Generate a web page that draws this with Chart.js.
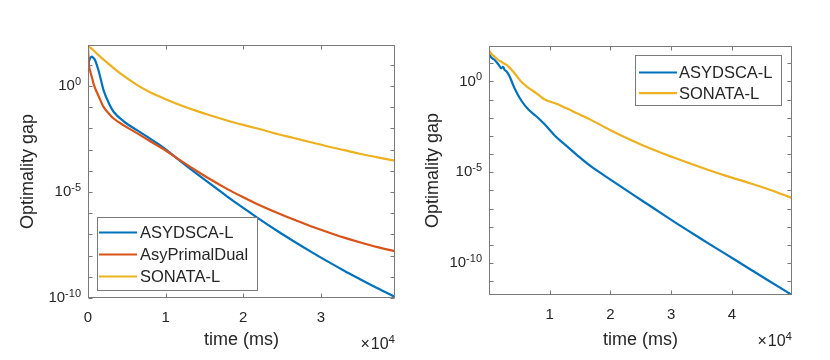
<!DOCTYPE html>
<html>
<head>
<meta charset="utf-8">
<script src="https://cdn.jsdelivr.net/npm/chart.js@4.4.1/dist/chart.umd.min.js"></script>
<style>
  body { margin: 0; background: #fff; }
  .panel { position: absolute; top: 0; width: 415px; height: 360px; }
</style>
</head>
<body>
<div class="panel" style="left:0"><canvas id="left" width="415" height="360"></canvas></div>
<div class="panel" style="left:415px"><canvas id="right" width="415" height="360"></canvas></div>
<script>
// time in ms, series are log10 of the optimality gap
var leftTime = [0, 100, 300, 500, 700, 900, 1400, 2000, 2700, 3300, 4600, 6300, 8000, 9700, 11500, 13600, 15800, 17900, 20000, 21700, 24500, 26500, 28700, 30800, 33000, 35000, 37300, 39550];
var leftAsydsca = [1.0, 1.15, 1.33, 1.39, 1.33, 1.23, 0.68, -0.19, -0.82, -1.21, -1.66, -2.08, -2.48, -2.9, -3.42, -4.02, -4.63, -5.2, -5.75, -6.18, -6.86, -7.32, -7.81, -8.26, -8.71, -9.1, -9.54, -9.95];
var leftPrimalDual = [1.86, 1.07, 0.68, 0.42, 0.13, -0.08, -0.5, -0.98, -1.3, -1.53, -1.85, -2.22, -2.6, -2.97, -3.41, -3.91, -4.41, -4.85, -5.25, -5.55, -6.0, -6.3, -6.61, -6.88, -7.15, -7.37, -7.6, -7.79];
var leftSonata = [1.89, 1.86, 1.82, 1.76, 1.69, 1.62, 1.45, 1.25, 1.04, 0.85, 0.48, 0.06, -0.29, -0.57, -0.84, -1.12, -1.39, -1.62, -1.83, -1.99, -2.27, -2.45, -2.65, -2.84, -3.02, -3.19, -3.36, -3.52];

var rightTime = [0, 300, 900, 1400, 1800, 2000, 2300, 2600, 2900, 3400, 4200, 5400, 6500, 8100, 9200, 10900, 12600, 14500, 16700, 20000, 23900, 27000, 30200, 34500, 38800, 43000, 46000, 49900];
var rightAsydsca = [1.55, 1.35, 1.19, 1.0, 0.82, 0.72, 0.8, 0.62, 0.55, 0.27, -0.37, -1.09, -1.55, -2.01, -2.37, -3.0, -3.5, -4.05, -4.65, -5.4, -6.27, -6.95, -7.66, -8.57, -9.46, -10.33, -10.95, -11.75];
var rightSonata = [1.72, 1.55, 1.37, 1.22, 1.12, 1.08, 1.02, 0.96, 0.91, 0.76, 0.45, -0.05, -0.35, -0.72, -1.0, -1.2, -1.45, -1.75, -2.1, -2.68, -3.3, -3.75, -4.16, -4.68, -5.17, -5.6, -5.93, -6.41];

var leftXTicks = [0, 10000, 20000, 30000];
var rightXTicks = [10000, 20000, 30000, 40000];
var yTicks = [1e-10, 1e-5, 1];

var BLUE = '#0072BD', ORANGE = '#D95319', YELLOW = '#EDB120';
var INK = '#262626', FRAME = '#7a7a7a';
var FONT = '"Liberation Sans", Arial, sans-serif';

Chart.defaults.font.family = FONT;
Chart.defaults.color = INK;

function points(time, logs) {
  return time.map(function (t, i) { return { x: t, y: Math.pow(10, logs[i]) }; });
}

function line(label, color, data, order) {
  return {
    label: label, data: data, borderColor: color, backgroundColor: color,
    borderWidth: 2.2, pointRadius: 0, cubicInterpolationMode: 'monotone', order: order
  };
}

// matlab-ish box, inward ticks, 10^n labels and the x10^4 multiplier
var matlabAxes = {
  id: 'matlabAxes',
  afterDraw: function (chart) {
    var ctx = chart.ctx, a = chart.chartArea;
    var xs = chart.scales.x, ys = chart.scales.y;
    var L = Math.round(a.left) + 0.5, R = Math.round(a.right) - 0.5;
    var T = Math.round(a.top) + 0.5, B = Math.round(a.bottom) - 0.5;
    ctx.save();
    ctx.strokeStyle = FRAME;
    ctx.lineWidth = 1;
    ctx.strokeRect(L, T, R - L, B - T);
    ctx.beginPath();
    xs.ticks.forEach(function (t) {
      var px = Math.round(xs.getPixelForValue(t.value)) + 0.5;
      ctx.moveTo(px, B); ctx.lineTo(px, B - 4);
      ctx.moveTo(px, T); ctx.lineTo(px, T + 4);
    });
    var lo = Math.ceil(Math.log10(ys.min)), hi = Math.floor(Math.log10(ys.max));
    for (var e = lo; e <= hi; e++) {
      var py = Math.round(ys.getPixelForValue(Math.pow(10, e))) + 0.5;
      ctx.moveTo(L, py); ctx.lineTo(L + 4, py);
      ctx.moveTo(R, py); ctx.lineTo(R - 4, py);
    }
    ctx.stroke();

    ctx.fillStyle = INK;
    ys.ticks.forEach(function (t) {
      var py = ys.getPixelForValue(t.value);
      var exp = String(Math.round(Math.log10(t.value)));
      ctx.font = '11px ' + FONT;
      ctx.textAlign = 'right';
      ctx.textBaseline = 'alphabetic';
      var ew = ctx.measureText(exp).width;
      ctx.fillText(exp, a.left - 7, py - 1);
      ctx.font = '15px ' + FONT;
      ctx.textBaseline = 'middle';
      ctx.fillText('10', a.left - 7 - ew, py);
    });

    var my = a.bottom + 47;
    ctx.font = '11.5px ' + FONT;
    ctx.textAlign = 'right';
    ctx.textBaseline = 'alphabetic';
    var w4 = ctx.measureText('4').width;
    ctx.fillText('4', a.right, my - 2);
    ctx.font = '16px ' + FONT;
    ctx.textBaseline = 'middle';
    ctx.fillText('10', a.right - w4, my);
    var w10 = ctx.measureText('10').width;
    ctx.fillText('\u00d7', a.right - w4 - w10 - 1, my);
    ctx.restore();
  }
};

// legend box inside the axes
var boxLegend = {
  id: 'boxLegend',
  afterDraw: function (chart, args, o) {
    var ctx = chart.ctx, a = chart.chartArea;
    var x = o.fromRight ? a.right - o.dx - o.width : a.left + o.dx;
    var y = o.fromBottom ? a.bottom - o.dy - o.height : a.top + o.dy;
    ctx.save();
    ctx.fillStyle = '#fff';
    ctx.fillRect(x, y, o.width, o.height);
    ctx.strokeStyle = FRAME;
    ctx.lineWidth = 1;
    ctx.strokeRect(Math.round(x) + 0.5, Math.round(y) + 0.5, o.width, o.height);
    ctx.font = '16.5px ' + FONT;
    ctx.textAlign = 'left';
    ctx.textBaseline = 'middle';
    chart.data.datasets.forEach(function (ds, i) {
      var ry = y + o.firstRow + i * o.rowGap;
      ctx.strokeStyle = ds.borderColor;
      ctx.lineWidth = 2.2;
      ctx.beginPath();
      ctx.moveTo(x + o.lineStart, ry);
      ctx.lineTo(x + o.lineStart + 38, ry);
      ctx.stroke();
      ctx.fillStyle = INK;
      ctx.fillText(ds.label, x + o.textStart, ry + 1);
    });
    ctx.restore();
  }
};

function makeChart(id, datasets, cfg) {
  return new Chart(document.getElementById(id), {
    type: 'line',
    data: { datasets: datasets },
    plugins: [matlabAxes, boxLegend],
    options: {
      responsive: false,
      animation: false,
      devicePixelRatio: 1,
      layout: { padding: { left: 0, top: cfg.top, right: cfg.right, bottom: 0 } },
      plugins: { legend: { display: false }, tooltip: { enabled: false }, boxLegend: cfg.legend },
      scales: {
        x: {
          type: 'linear', min: 0, max: cfg.xMax,
          grid: { display: false, drawTicks: false }, border: { display: false },
          afterBuildTicks: function (s) { s.ticks = cfg.xTicks.map(function (v) { return { value: v }; }); },
          afterFit: function (s) { s.height = cfg.xHeight; },
          ticks: {
            font: { size: 15 }, padding: 11, maxRotation: 0, autoSkip: false,
            callback: function (v) { return String(v / 10000); }
          },
          title: { display: true, text: 'time (ms)', font: { size: 18 }, padding: { top: 0, bottom: 9 } }
        },
        y: {
          type: 'logarithmic', min: cfg.yMin, max: cfg.yMax,
          grid: { display: false, drawTicks: false }, border: { display: false },
          afterBuildTicks: function (s) { s.ticks = yTicks.map(function (v) { return { value: v }; }); },
          afterFit: function (s) { s.width = cfg.yWidth; },
          ticks: { display: false },
          title: { display: true, text: 'Optimality gap', font: { size: 18 }, padding: { top: cfg.yTitlePad, bottom: 0 } }
        }
      }
    }
  });
}

makeChart('left', [
  line('ASYDSCA-L', BLUE, points(leftTime, leftAsydsca), 3),
  line('AsyPrimalDual', ORANGE, points(leftTime, leftPrimalDual), 2),
  line('SONATA-L', YELLOW, points(leftTime, leftSonata), 1)
], {
  top: 45, right: 20, xHeight: 62, yWidth: 88, yTitlePad: 17,
  xMax: 39550, yMin: 1e-10, yMax: Math.pow(10, 1.94), xTicks: leftXTicks,
  legend: { dx: 9, dy: 8, width: 160, height: 73, fromBottom: true, fromRight: false,
            firstRow: 15.5, rowGap: 22, lineStart: 2, textStart: 43 }
});

makeChart('right', [
  line('ASYDSCA-L', BLUE, points(rightTime, rightAsydsca), 2),
  line('SONATA-L', YELLOW, points(rightTime, rightSonata), 1)
], {
  top: 46, right: 38, xHeight: 65, yWidth: 74, yTitlePad: 7,
  xMax: 49900, yMin: Math.pow(10, -11.75), yMax: Math.pow(10, 1.95), xTicks: rightXTicks,
  legend: { dx: 11, dy: 9, width: 146, height: 50, fromBottom: false, fromRight: true,
            firstRow: 17.5, rowGap: 20.6, lineStart: 4, textStart: 44 }
});
</script>
</body>
</html>
